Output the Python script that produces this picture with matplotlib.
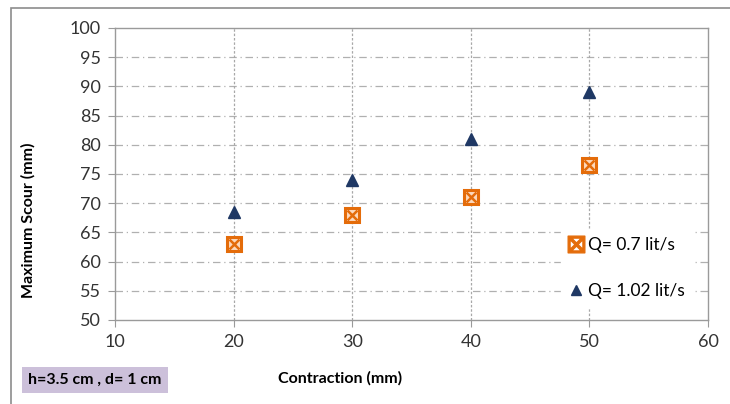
import matplotlib
matplotlib.use("Agg")
import matplotlib.pyplot as plt
from matplotlib.patches import Rectangle
from matplotlib.lines import Line2D

plt.rcParams['font.family'] = ['Lato', 'DejaVu Sans']

contraction = [20, 30, 40, 50]
scour_q07 = [63, 68, 71, 76.5]
scour_q102 = [68.5, 74, 81, 89]
label_q07 = "Q= 0.7 lit/s"
label_q102 = "Q= 1.02 lit/s"

orange = '#e46c0a'
navy = '#1f3864'
gray = '#9a9a9a'

fig = plt.figure(figsize=(7.3, 4.04), dpi=100)
ax = fig.add_axes([115 / 730, 1 - 320 / 404, (708 - 115) / 730, (320 - 28) / 404])

# outer chart border (left/top visible)
fig.patches.append(Rectangle((11 / 730, -0.1), 1.2, 1 - 8 / 404 + 0.1, transform=fig.transFigure,
                             fill=False, edgecolor='#8c8c8c', lw=1.2))

ax.plot(contraction, scour_q07, ls='none', marker='s', ms=10, mfc='#fcd9bd', mec=orange, mew=2.2,
        zorder=3)
ax.plot(contraction, scour_q07, ls='none', marker='x', ms=7, mec=orange, mew=1.8, zorder=4)
ax.plot(contraction, scour_q102, ls='none', marker='^', ms=8, mfc=navy, mec=navy, zorder=3)

ax.set_xlim(10, 60)
ax.set_ylim(50, 100)
ax.set_xticks(range(10, 61, 10))
ax.set_yticks(range(50, 101, 5))

for y in range(55, 100, 5):
    ax.axhline(y, color='#b0b0b0', lw=0.9, ls=(0, (6, 3, 1, 3)), zorder=1)
for x in range(20, 60, 10):
    ax.axvline(x, color='#a8a8a8', lw=0.9, ls=(0, (2, 1.5)), zorder=1)

for s in ax.spines.values():
    s.set_color(gray)
    s.set_linewidth(1.0)
ax.tick_params(axis='both', direction='out', length=5, color=gray, labelsize=13,
               labelcolor='#333333', pad=5)

fig.text(28 / 730, 1 - 220 / 404, "Maximum Scour (mm)", fontsize=11.5, fontweight='bold',
         rotation=90, ha='center', va='center')
fig.text(340 / 730, 1 - 378 / 404, "Contraction (mm)", fontsize=11.5, fontweight='bold',
         ha='center', va='center')

# legend proxies that look like the chart markers
h1 = Line2D([], [], ls='none', marker='$\\boxtimes$', ms=12, mfc=orange, mec=orange)
h2 = Line2D([], [], ls='none', marker='^', ms=7, mfc=navy, mec=navy)
leg = ax.legend([h1, h2], [label_q07, label_q102], loc='upper left',
                bbox_to_anchor=(552 / 730, 1 - 220 / 404), bbox_transform=fig.transFigure,
                frameon=True, fontsize=12.5, labelspacing=1.7, handlelength=0.8,
                handletextpad=0.3, borderpad=0.5, fancybox=False)
leg.get_frame().set_edgecolor('white')
leg.get_frame().set_facecolor('white')
leg.get_frame().set_alpha(1)

fig.text(28 / 730, 1 - 380 / 404, "h=3.5 cm , d= 1 cm", fontsize=11.5, fontweight='bold',
         ha='left', va='center',
         bbox=dict(boxstyle='square,pad=0.4', facecolor='#ccc0da', edgecolor='none'))

fig.savefig("out.png", dpi=100)
